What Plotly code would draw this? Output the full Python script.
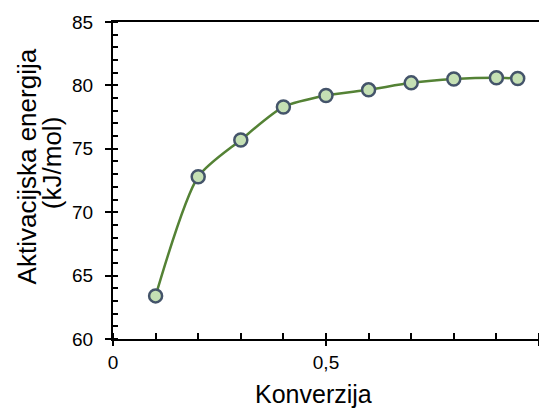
import plotly.graph_objects as go

# Conversion (x) and activation energy (kJ/mol)
konverzija = [0.1, 0.2, 0.3, 0.4, 0.5, 0.6, 0.7, 0.8, 0.9, 0.95]
energija = [63.4, 72.8, 75.7, 78.3, 79.2, 79.65, 80.2, 80.5, 80.6, 80.55]

x_tickvals = [0, 0.5, 1]
x_ticktext = ["0", "0,5", "1"]
y_tickvals = [60, 65, 70, 75, 80, 85]

x_title = "Konverzija"
y_title_lines = ["Aktivacijska energija", "(kJ/mol)"]

FONT = "Liberation Sans, Arial, sans-serif"

fig = go.Figure()
fig.add_trace(go.Scatter(
    x=konverzija, y=energija,
    mode="lines+markers",
    line=dict(color="#548235", width=2.5, shape="spline", smoothing=0.7),
    marker=dict(size=13, color="#C5E0B4", line=dict(color="#44546A", width=2.5)),
    showlegend=False,
))

axis_font = dict(family=FONT, size=19, color="black")

fig.update_xaxes(
    range=[0, 1],
    tickvals=x_tickvals, ticktext=x_ticktext,
    ticks="outside", ticklen=5, tickwidth=2, tickcolor="black",
    minor=dict(ticks="inside", dtick=0.1, ticklen=6, tickwidth=2, tickcolor="black"),
    showline=True, linewidth=2, linecolor="black", mirror=True,
    showgrid=False, zeroline=False,
    tickfont=axis_font,
)
fig.update_yaxes(
    range=[60, 85],
    tickvals=y_tickvals,
    ticks="outside", ticklen=6, tickwidth=2, tickcolor="black",
    minor=dict(ticks="inside", dtick=1, ticklen=5, tickwidth=2, tickcolor="black"),
    showline=True, linewidth=2, linecolor="black",
    showgrid=False, zeroline=False,
    tickfont=axis_font, ticklabelstandoff=8,
)

# axis titles as annotations (tighter line spacing than plotly's multi-line titles)
fig.add_annotation(text=x_title, xref="paper", yref="paper", x=0.47, y=-0.172,
                   xanchor="center", yanchor="middle", showarrow=False,
                   font=dict(family=FONT, size=25, color="black"))
y_font = dict(family=FONT, size=26, color="black")
fig.add_annotation(text=y_title_lines[0], xref="paper", yref="paper", x=-0.203, y=0.543,
                   xanchor="center", yanchor="middle", textangle=-90, showarrow=False, font=y_font)
fig.add_annotation(text=y_title_lines[1], xref="paper", yref="paper", x=-0.143, y=0.555,
                   xanchor="center", yanchor="middle", textangle=-90, showarrow=False, font=y_font)

fig.update_layout(
    width=539, height=408,
    margin=dict(l=113, r=0, t=22, b=69),
    paper_bgcolor="white", plot_bgcolor="white",
)

fig.write_html("out.html", config={"displayModeBar": False},
               post_script="document.body.style.margin='0';document.body.style.overflow='hidden';")
